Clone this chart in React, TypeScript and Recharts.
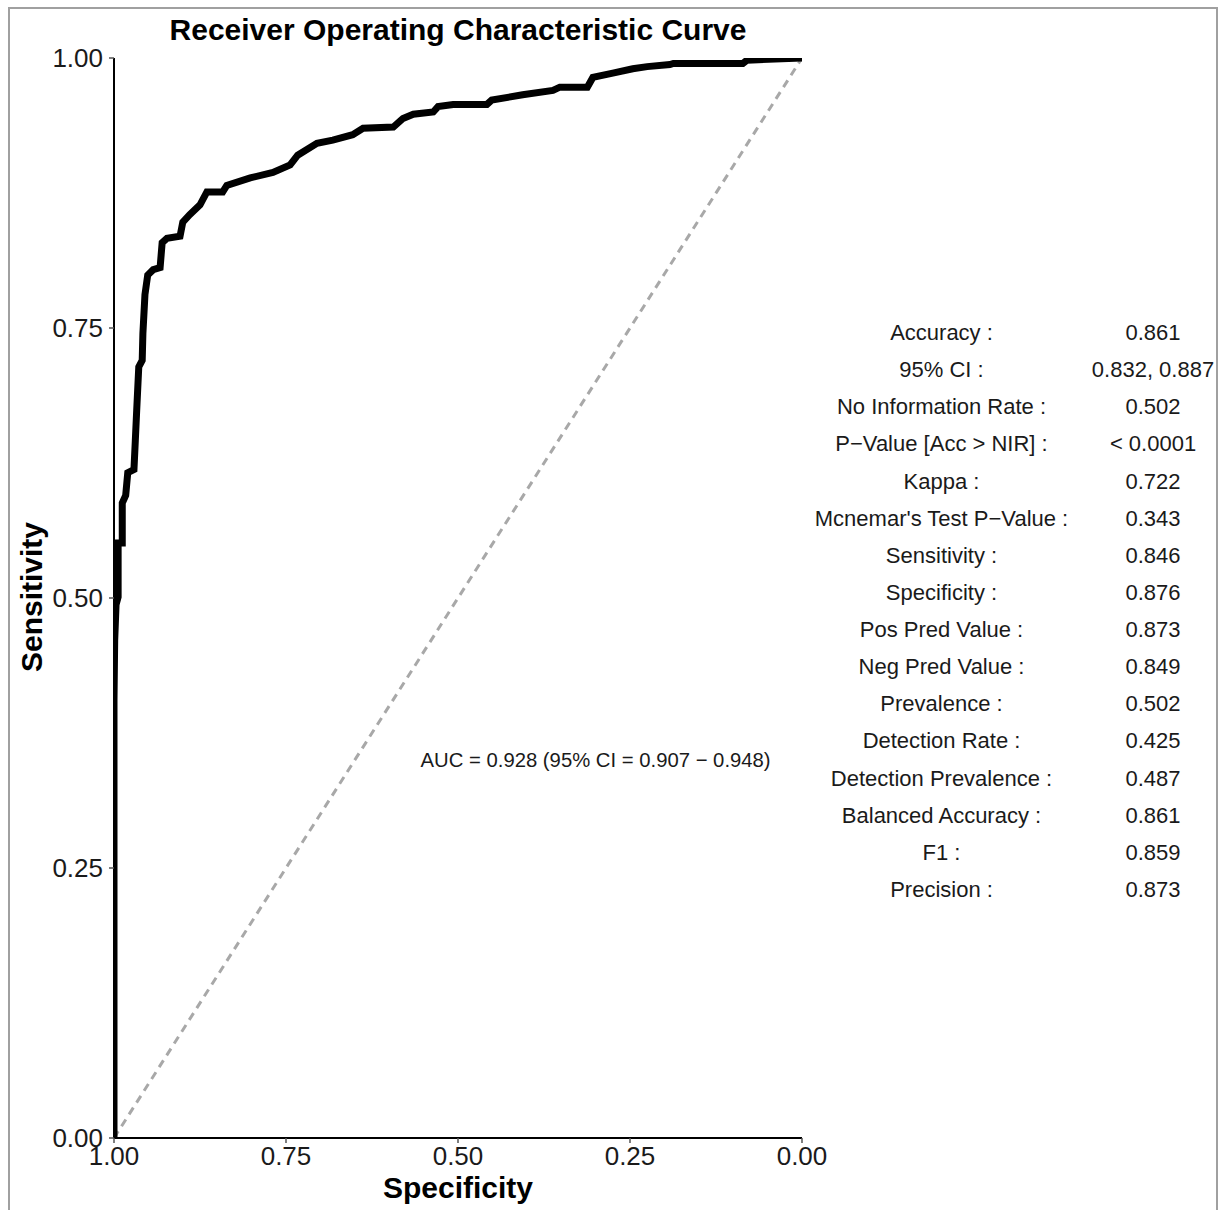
import { Line, LineChart, ReferenceDot, XAxis, YAxis } from "recharts";

// ROC curve (specificity runs 1 -> 0 along x)
const specificity = [
  1.0, 1.0, 0.999, 0.997, 0.994, 0.994, 0.988, 0.988, 0.983, 0.98, 0.971, 0.969, 0.967, 0.964,
  0.959, 0.958, 0.955, 0.951, 0.943, 0.933, 0.93, 0.923, 0.904, 0.9, 0.89, 0.875, 0.865, 0.842,
  0.836, 0.802, 0.769, 0.744, 0.733, 0.705, 0.682, 0.653, 0.638, 0.594, 0.58, 0.565, 0.536,
  0.529, 0.507, 0.458, 0.451, 0.406, 0.362, 0.352, 0.312, 0.304, 0.275, 0.246, 0.225, 0.192,
  0.187, 0.086, 0.08, 0.0,
];
const sensitivity = [
  0.0, 0.406, 0.461, 0.494, 0.501, 0.551, 0.551, 0.588, 0.595, 0.616, 0.619, 0.646, 0.674, 0.714,
  0.72, 0.745, 0.781, 0.799, 0.804, 0.806, 0.829, 0.833, 0.835, 0.848, 0.855, 0.864, 0.876, 0.876,
  0.882, 0.889, 0.894, 0.901, 0.91, 0.921, 0.924, 0.929, 0.935, 0.936, 0.944, 0.948, 0.95, 0.955,
  0.957, 0.957, 0.961, 0.966, 0.97, 0.973, 0.973, 0.982, 0.986, 0.99, 0.992, 0.994, 0.995, 0.995,
  0.998, 1.0,
];

const chanceSpec = [1, 0];
const chanceSens = [0, 1];

const axisTicks = [0, 0.25, 0.5, 0.75, 1];

const statLabels = [
  "Accuracy :",
  "95% CI :",
  "No Information Rate :",
  "P\u2212Value [Acc > NIR] :",
  "Kappa :",
  "Mcnemar's Test P\u2212Value :",
  "Sensitivity :",
  "Specificity :",
  "Pos Pred Value :",
  "Neg Pred Value :",
  "Prevalence :",
  "Detection Rate :",
  "Detection Prevalence :",
  "Balanced Accuracy :",
  "F1 :",
  "Precision :",
];
const statValues = [
  "0.861",
  "0.832, 0.887",
  "0.502",
  "< 0.0001",
  "0.722",
  "0.343",
  "0.846",
  "0.876",
  "0.873",
  "0.849",
  "0.502",
  "0.425",
  "0.487",
  "0.861",
  "0.859",
  "0.873",
];

const aucText = "AUC = 0.928 (95% CI = 0.907 \u2212 0.948)";

const rocData = specificity.map((s, i) => ({ spec: s, sens: sensitivity[i] }));
const chanceData = chanceSpec.map((s, i) => ({ spec: s, sens: chanceSens[i] }));

const FONT = '"Liberation Sans", Arial, Helvetica, sans-serif';
const tickStyle = { fontSize: 26, fill: "#1a1a1a", fontFamily: FONT };

const centered = (x: number, y: number): React.CSSProperties => ({
  position: "absolute",
  left: x,
  top: y,
  transform: "translate(-50%, -50%)",
  whiteSpace: "nowrap",
  lineHeight: 1,
});

export default function App() {
  return (
    <div
      style={{
        position: "relative",
        width: 1220,
        height: 1210,
        overflow: "hidden",
        background: "#fff",
        fontFamily: FONT,
        color: "#1a1a1a",
      }}
    >
      <style>{"body{margin:0;overflow:hidden}"}</style>
      <div
        style={{
          position: "absolute",
          left: 8,
          top: 7,
          width: 1210,
          height: 1300,
          boxSizing: "border-box",
          border: "2px solid #a0a0a0",
        }}
      />

      <div style={{ position: "absolute", left: 0, top: 0 }}>
        <LineChart
          width={1220}
          height={1210}
          data={rocData}
          margin={{ top: 58, right: 418, bottom: 0, left: 0 }}
        >
          <XAxis
            type="number"
            dataKey="spec"
            domain={[0, 1]}
            reversed
            ticks={axisTicks}
            tickFormatter={(v: number) => v.toFixed(2)}
            height={72}
            tick={tickStyle}
            tickSize={5}
            tickMargin={4}
            axisLine={{ stroke: "#000", strokeWidth: 2 }}
            tickLine={{ stroke: "#555", strokeWidth: 1.5 }}
            allowDataOverflow
          />
          <YAxis
            type="number"
            dataKey="sens"
            domain={[0, 1]}
            ticks={axisTicks}
            tickFormatter={(v: number) => v.toFixed(2)}
            width={114}
            tick={tickStyle}
            tickSize={5}
            tickMargin={6}
            axisLine={{ stroke: "#000", strokeWidth: 2 }}
            tickLine={{ stroke: "#555", strokeWidth: 1.5 }}
            allowDataOverflow
          />
          <Line
            data={chanceData}
            dataKey="sens"
            type="linear"
            stroke="#a8a8a8"
            strokeWidth={3}
            strokeDasharray="8 6"
            dot={false}
            activeDot={false}
            isAnimationActive={false}
          />
          <Line
            dataKey="sens"
            type="linear"
            stroke="#000"
            strokeWidth={7}
            strokeLinejoin="miter"
            dot={false}
            activeDot={false}
            isAnimationActive={false}
          />
          <ReferenceDot
            x={0.3}
            y={0.35}
            r={0}
            fill="none"
            stroke="none"
            label={{
              value: aucText,
              position: "center",
              fontSize: 20.3,
              fill: "#1a1a1a",
              fontFamily: FONT,
            }}
          />
        </LineChart>
      </div>

      <div style={{ ...centered(458, 30), fontSize: 30, fontWeight: "bold", color: "#000" }}>
        Receiver Operating Characteristic Curve
      </div>
      <div style={{ ...centered(458, 1188), fontSize: 30, fontWeight: "bold", color: "#000" }}>
        Specificity
      </div>
      <div
        style={{
          ...centered(32, 597),
          transform: "translate(-50%, -50%) rotate(-90deg)",
          fontSize: 30,
          fontWeight: "bold",
          color: "#000",
        }}
      >
        Sensitivity
      </div>

      {statLabels.map((lab, i) => (
        <div key={lab} style={{ ...centered(941.5, 333 + i * 37.13), fontSize: 22 }}>
          {lab}
        </div>
      ))}
      {statValues.map((val, i) => (
        <div key={i} style={{ ...centered(1153, 333 + i * 37.13), fontSize: 22 }}>
          {val}
        </div>
      ))}
    </div>
  );
}
